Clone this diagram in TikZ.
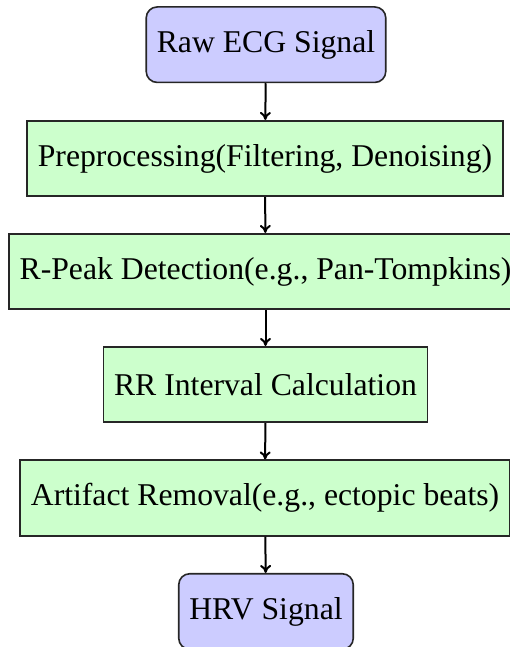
\documentclass[tikz,border=0pt]{standalone}
\usepackage{fontspec}
\setmainfont{Liberation Serif}
\usetikzlibrary{arrows.meta}
\begin{document}
\begin{tikzpicture}[x=1pt,y=-1pt,
  line width=1.6pt,
  flowbase/.style={draw=black!85, inner sep=10.6pt, minimum height=75.5pt,
    font=\fontsize{31.7}{38}\selectfont},
  terminal/.style={flowbase, fill=blue!20, rounded corners=11pt},
  process/.style={flowbase, fill=green!20},
  flow/.style={line width=2pt, -{To[length=8pt,width=11pt]}}
]
\useasboundingbox (0,0) rectangle (509,647);

\node[terminal] (raw)   at (266,44.7)  {Raw ECG Signal};
\node[process]  (pre)   at (265,158.5) {Preprocessing(Filtering, Denoising)};
\node[process]  (rpk)   at (265.5,271.5) {R-Peak Detection(e.g., Pan-Tompkins)};
\node[process]  (rr)    at (265.5,384.5) {RR Interval Calculation};
\node[process]  (art)   at (265,498)   {Artifact Removal(e.g., ectopic beats)};
\node[terminal] (hrv)   at (266,611.5) {HRV Signal};

\draw[flow] (raw) -- (pre);
\draw[flow] (pre) -- (rpk);
\draw[flow] (rpk) -- (rr);
\draw[flow] (rr)  -- (art);
\draw[flow] (art) -- (hrv);
\end{tikzpicture}
\end{document}
